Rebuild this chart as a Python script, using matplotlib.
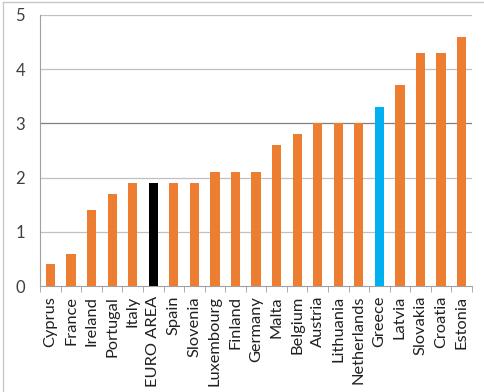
import matplotlib
matplotlib.use("Agg")
import matplotlib.pyplot as plt
from matplotlib.lines import Line2D

countries = ["Cyprus", "France", "Ireland", "Portugal", "Italy", "EURO AREA", "Spain",
             "Slovenia", "Luxembourg", "Finland", "Germany", "Malta", "Belgium", "Austria",
             "Lithuania", "Netherlands", "Greece", "Latvia", "Slovakia", "Croatia", "Estonia"]
values = [0.4, 0.6, 1.4, 1.7, 1.9, 1.9, 1.9, 1.9, 2.1, 2.1, 2.1, 2.6, 2.8, 3.0,
          3.0, 3.0, 3.3, 3.7, 4.3, 4.3, 4.6]
yticks = [0, 1, 2, 3, 4, 5]

ORANGE = "#ED7D31"
colors = []
for c in countries:
    if c == "EURO AREA":
        colors.append("#000000")
    elif c == "Greece":
        colors.append("#00B0F0")
    else:
        colors.append(ORANGE)

plt.rcParams['font.family'] = ['Lato', 'DejaVu Sans']

fig = plt.figure(figsize=(4.84, 3.92), dpi=100)
ax = fig.add_axes([0.083, 0.270, 0.892, 0.692])

x = list(range(len(countries)))
ax.bar(x, values, width=0.45, color=colors, zorder=3)

ax.set_ylim(0, 5)
ax.set_xlim(-0.5, len(countries) - 0.5)
ax.set_yticks(yticks)
ax.set_yticklabels([str(v) for v in yticks], fontsize=12, color="#404040")
for v in yticks[1:]:
    ax.axhline(v, color="#7f7f7f" if v == 3 else "#c0c0c0", lw=0.9, zorder=1)

ax.set_xticks(x)
ax.set_xticklabels(countries, rotation=90, fontsize=11.8, color="#202020")
ax.tick_params(axis='x', length=0, pad=7)
ax.tick_params(axis='y', length=0, pad=11)
# tick marks at category boundaries
ax.set_xticks([i - 0.5 for i in range(len(countries) + 1)], minor=True)
ax.tick_params(axis='x', which='minor', length=4, color="#a0a0a0", direction='out')

for s in ["top", "right"]:
    ax.spines[s].set_visible(False)
ax.spines["left"].set_color("#a0a0a0")
ax.spines["bottom"].set_color("#a0a0a0")

fig.add_artist(Line2D([0.006, 0.006], [0.0, 0.995], transform=fig.transFigure,
                      color="#c8c8c8", lw=1))
fig.add_artist(Line2D([0.006, 1.0], [0.995, 0.995], transform=fig.transFigure,
                      color="#c8c8c8", lw=1))

fig.savefig("out.png", dpi=100)
